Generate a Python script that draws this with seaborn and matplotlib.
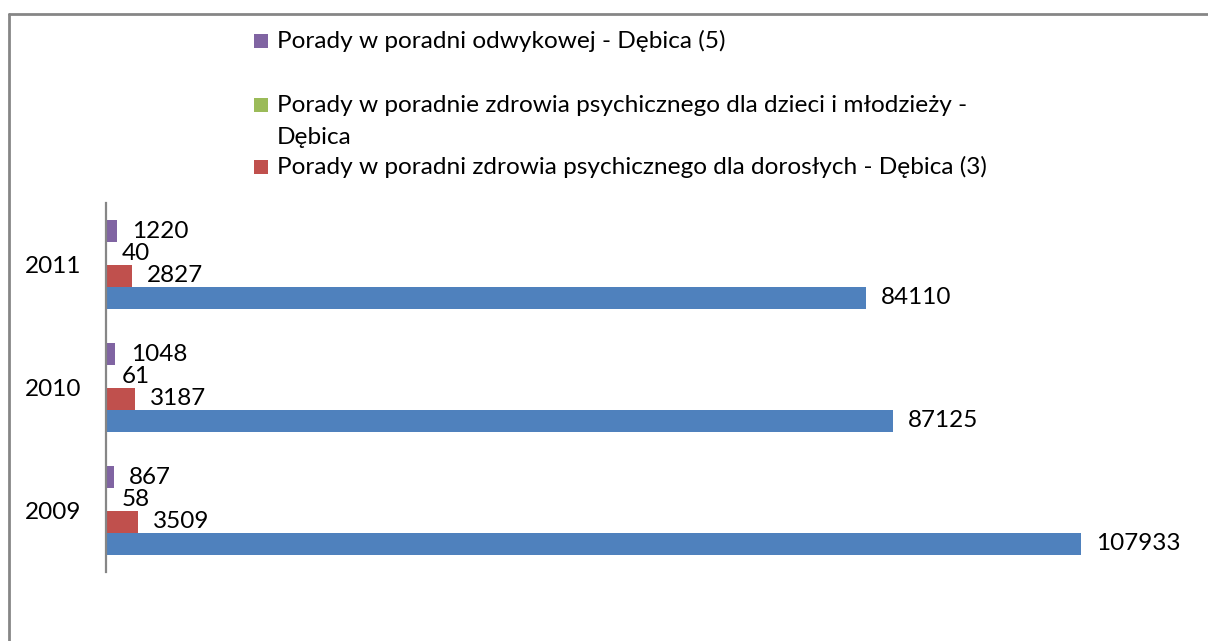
import matplotlib
matplotlib.use("Agg")
import matplotlib.pyplot as plt
from matplotlib.lines import Line2D
from matplotlib.patches import Rectangle
import seaborn as sns
import pandas as pd

# ---- data ----
years = ["2011", "2010", "2009"]
series_names = [
    "Porady w poradni odwykowej - Dębica (5)",
    "Porady w poradnie zdrowia psychicznego dla dzieci i młodzieży -\nDębica",
    "Porady w poradni zdrowia psychicznego dla dorosłych - Dębica (3)",
    "Porady ogółem - Dębica",
]
odwykowa = [1220, 1048, 867]
dzieci = [40, 61, 58]
dorosli = [2827, 3187, 3509]
ogolem = [84110, 87125, 107933]
colors = ["#8064A2", "#9BBB59", "#C0504D", "#4F81BD"]
legend_shown = 3  # the blue series has no legend entry in the original

rows = []
for name, vals in zip(series_names, [odwykowa, dzieci, dorosli, ogolem]):
    for y, v in zip(years, vals):
        rows.append({"rok": y, "seria": name, "wartosc": v})
df = pd.DataFrame(rows)

sns.set_theme(style="white")
plt.rcParams["font.family"] = ["Lato", "DejaVu Sans"]

W, H = 1208, 641
fig = plt.figure(figsize=(W / 100, H / 100), dpi=100)
ax = fig.add_axes([106 / W, (H - 572) / H, (1190 - 106) / W, 369 / H])

sns.barplot(
    data=df, x="wartosc", y="rok", hue="seria", orient="h",
    order=years, hue_order=series_names,
    palette=dict(zip(series_names, colors)),
    width=0.716, gap=0, saturation=1, legend=False, ax=ax,
    linewidth=0, edgecolor="none",
)

for cont in ax.containers:
    ax.bar_label(cont, fmt="%d", padding=11, fontsize=17.5, color="#000000")

ax.set_xlim(0, 120000)
ax.set_ylim(2.5, -0.5)
ax.set_xlabel("")
ax.set_ylabel("")
ax.set_xticks([])
ax.tick_params(axis="y", length=0, pad=18, labelsize=17.5, labelcolor="#000000")
for s in ["top", "right", "bottom"]:
    ax.spines[s].set_visible(False)
ax.spines["left"].set_color("#868686")
ax.spines["left"].set_linewidth(1.6)

# chart frame (top and left edges)
fig.add_artist(Line2D([9 / W, 1.0], [1 - 14 / H, 1 - 14 / H], transform=fig.transFigure,
                      color="#868686", linewidth=2))
fig.add_artist(Line2D([9 / W, 9 / W], [0, 1 - 14 / H], transform=fig.transFigure,
                      color="#868686", linewidth=2))

# legend (manual, to match layout)
leg_y = [41, 105, 166.5]
for i in range(legend_shown):
    yc = leg_y[i]
    fig.add_artist(Rectangle((254 / W, 1 - (yc + 7) / H), 14 / W, 14 / H,
                             transform=fig.transFigure, facecolor=colors[i], edgecolor="none"))
    for k, line in enumerate(series_names[i].split("\n")):
        fig.text(277 / W, 1 - (yc + 32 * k) / H, line, fontsize=17.6, color="#000000",
                 va="center")

fig.savefig("out.png", dpi=100)
